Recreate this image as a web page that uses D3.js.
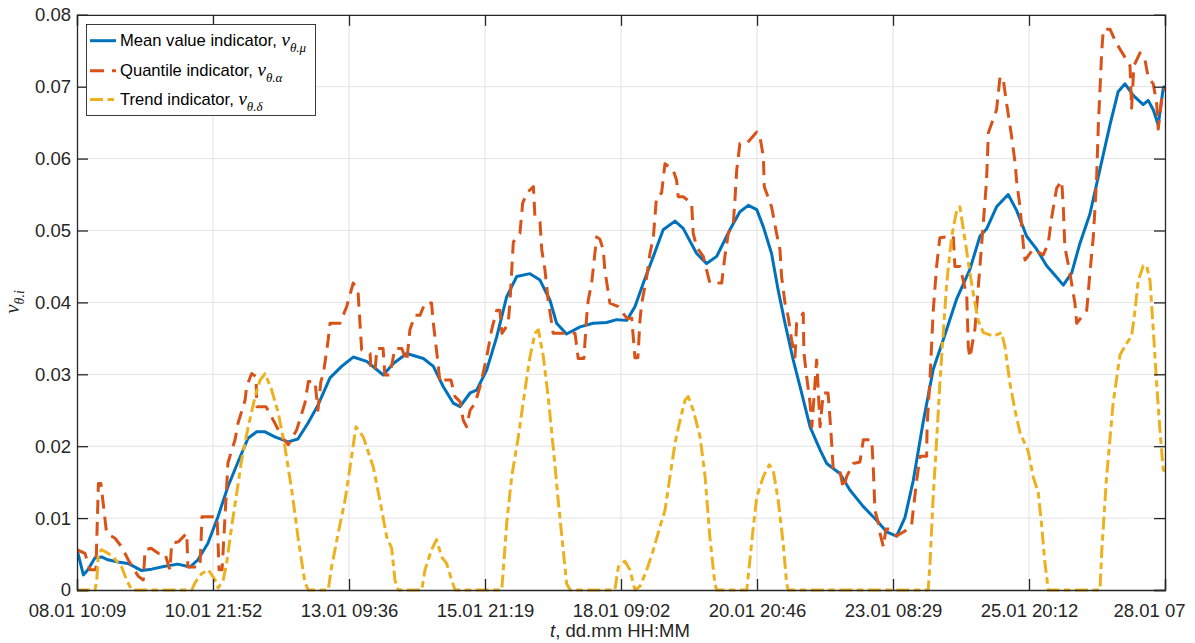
<!DOCTYPE html>
<html>
<head>
<meta charset="utf-8">
<script src="https://cdn.jsdelivr.net/npm/d3@7"></script>
<style>
html,body{margin:0;padding:0;background:#fff;}
svg{display:block;font-family:"Liberation Sans",Arial,Helvetica,sans-serif;}
</style>
</head>
<body>
<script>
// ---- Tick times (dd.mm HH:MM) and the tick labels as shown ----
const xTickTimes = ["08.01 10:09","10.01 21:52","13.01 09:36","15.01 21:19","18.01 09:02","20.01 20:46","23.01 08:29","25.01 20:12","28.01 07:55"];
const xTickLabels = ["08.01 10:09","10.01 21:52","13.01 09:36","15.01 21:19","18.01 09:02","20.01 20:46","23.01 08:29","25.01 20:12","28.01 07"];
const yTicks = [0,0.01,0.02,0.03,0.04,0.05,0.06,0.07,0.08];

// ---- Mean value indicator: time (hours from 08.01 10:09) and value ----
const meanT = [0,2.8,4.8,7.9,10.8,13.6,18.0,22.4,28.4,32.8,38.6,44.3,49.6,53.1,57.5,61.9,66.3,70.7,75.1,78.9,82.6,86.9,92.7,97.0,101.4,105.8,111.1,116.2,121.3,127.2,134.5,138.9,144.8,152.1,156.5,160.8,165.2,168.2,172.6,175.5,179.9,184.3,188.7,193.1,198.9,203.3,207.7,210.6,215.0,220.9,226.7,232.6,237.0,241.4,245.0,248.7,253.1,257.4,262.6,266.2,272.1,276.5,280.9,286.7,291.1,294.8,298.5,301.4,305.0,307.9,310.9,314.5,318.2,321.9,326.3,329.2,335.0,339.4,345.3,351.1,355.5,359.9,363.6,367.2,371.6,376.0,380.4,386.3,392.1,396.5,399.4,403.8,408.9,412.6,417.0,421.4,425.8,430.2,433.1,436.8,440.4,444.8,449.2,453.6,457.2,460.2,463.8,468.2,470.4,472.6,474.8,477.0,477.7];
const meanV = [0.0056,0.0021,0.0028,0.0045,0.0046,0.0042,0.0039,0.0037,0.0027,0.0029,0.0033,0.0036,0.0032,0.0042,0.0065,0.0102,0.0144,0.0178,0.0211,0.0220,0.0220,0.0213,0.0206,0.0210,0.0232,0.0257,0.0295,0.0311,0.0324,0.0318,0.0299,0.0315,0.0329,0.0322,0.0311,0.0283,0.0260,0.0255,0.0274,0.0278,0.0306,0.0352,0.0408,0.0436,0.0440,0.0431,0.0403,0.0371,0.0356,0.0366,0.0371,0.0372,0.0376,0.0375,0.0394,0.0427,0.0464,0.0501,0.0513,0.0503,0.0468,0.0454,0.0464,0.0501,0.0526,0.0535,0.0529,0.0505,0.0468,0.0417,0.0371,0.0320,0.0274,0.0227,0.0195,0.0176,0.0162,0.0139,0.0116,0.0097,0.0081,0.0075,0.0101,0.0152,0.0234,0.0307,0.0348,0.0405,0.0446,0.0492,0.0502,0.0533,0.0550,0.0528,0.0492,0.0474,0.0451,0.0435,0.0424,0.0441,0.0482,0.0523,0.0585,0.0647,0.0693,0.0704,0.0688,0.0675,0.0681,0.0668,0.0647,0.0698,0.0701];

// ---- Quantile indicator ----
const quantT = [0,3.5,5.7,8.3,9.4,10.5,13.0,16.7,19.6,22.5,26.9,29.1,29.9,32.5,35.7,38.6,40.8,41.6,44.5,48.2,48.7,54.0,54.9,61.5,62.4,63.7,66.3,69.4,70.7,73.8,74.5,76.7,78.6,79.0,83.0,86.9,89.9,92.8,96.5,100.1,101.6,104.5,105.8,107.1,108.2,110.3,111.1,115.5,118.4,121.3,123.4,125.0,128.7,129.1,130.9,131.7,134.4,135.2,137.4,139.6,142.6,144.8,146.2,148.4,150.6,152.8,155.7,156.3,158.5,159.4,160.7,164.2,166.0,168.2,169.6,171.1,172.6,174.8,177.0,179.9,182.1,184.3,185.7,186.6,189.3,190.1,190.9,191.6,194.5,195.7,197.5,200.4,201.1,203.3,204.1,205.5,206.9,209.1,212.1,218.7,220.1,222.6,223.8,224.5,226.0,228.2,229.6,231.1,231.8,234.0,237.7,241.4,243.6,245.0,246.3,247.2,248.0,250.2,251.6,253.1,253.8,254.5,256.7,258.2,261.8,263.3,264.0,266.2,269.9,270.6,272.1,275.0,276.5,277.9,283.1,284.5,286.0,288.2,288.9,289.7,291.1,294.1,298.5,299.9,301.4,301.8,305.0,307.2,308.7,309.4,310.9,312.3,313.8,315.3,316.0,318.9,319.2,320.4,321.9,322.7,324.8,325.5,326.3,327.7,329.8,330.6,331.4,332.1,335.0,336.5,338.0,340.9,343.8,345.3,349.0,349.7,350.4,351.9,352.6,354.1,355.2,357.0,359.9,363.6,366.5,367.2,368.7,370.2,373.1,373.3,374.6,376.0,377.5,378.9,384.8,385.5,387.7,390.7,391.4,392.1,394.3,396.5,399.4,400.2,403.8,405.3,406.6,408.2,410.4,411.9,412.6,414.1,415.5,416.3,419.9,424.3,426.5,428.0,430.2,432.4,433.1,433.8,436.0,438.2,439.0,443.4,444.8,446.3,447.7,448.5,450.0,450.7,453.6,456.5,459.4,462.4,463.1,464.1,466.8,469.0,470.4,472.6,474.1,474.8,476.3,477.7];
const quantV = [0.0056,0.0051,0.0028,0.0028,0.0148,0.0148,0.0079,0.0072,0.0060,0.0042,0.0019,0.0014,0.0056,0.0058,0.0051,0.0051,0.0028,0.0065,0.0067,0.0079,0.0032,0.0032,0.0102,0.0102,0.0028,0.0028,0.0177,0.0209,0.0232,0.0264,0.0283,0.0301,0.0297,0.0255,0.0255,0.0232,0.0213,0.0202,0.0223,0.0260,0.0290,0.0290,0.0250,0.0290,0.0301,0.0348,0.0371,0.0371,0.0394,0.0427,0.0415,0.0334,0.0329,0.0306,0.0306,0.0336,0.0336,0.0299,0.0299,0.0336,0.0336,0.0318,0.0362,0.0382,0.0382,0.0399,0.0399,0.0376,0.0316,0.0288,0.0292,0.0292,0.0269,0.0262,0.0236,0.0227,0.0250,0.0260,0.0283,0.0324,0.0362,0.0389,0.0389,0.0357,0.0370,0.0399,0.0445,0.0484,0.0496,0.0538,0.0552,0.0561,0.0519,0.0512,0.0473,0.0445,0.0403,0.0357,0.0357,0.0357,0.0322,0.0322,0.0380,0.0403,0.0427,0.0491,0.0488,0.0473,0.0445,0.0399,0.0394,0.0378,0.0378,0.0323,0.0323,0.0375,0.0399,0.0436,0.0468,0.0491,0.0519,0.0547,0.0552,0.0593,0.0584,0.0570,0.0547,0.0547,0.0538,0.0496,0.0477,0.0464,0.0445,0.0427,0.0427,0.0464,0.0496,0.0510,0.0542,0.0584,0.0621,0.0621,0.0637,0.0630,0.0603,0.0561,0.0533,0.0496,0.0473,0.0436,0.0399,0.0380,0.0348,0.0324,0.0371,0.0385,0.0330,0.0297,0.0260,0.0227,0.0320,0.0278,0.0227,0.0274,0.0274,0.0241,0.0204,0.0167,0.0165,0.0141,0.0158,0.0176,0.0178,0.0209,0.0209,0.0167,0.0111,0.0093,0.0079,0.0060,0.0085,0.0085,0.0075,0.0082,0.0090,0.0111,0.0152,0.0186,0.0186,0.0229,0.0296,0.0389,0.0451,0.0490,0.0492,0.0450,0.0450,0.0410,0.0338,0.0323,0.0363,0.0450,0.0569,0.0636,0.0668,0.0713,0.0713,0.0677,0.0631,0.0595,0.0569,0.0533,0.0482,0.0459,0.0474,0.0466,0.0482,0.0518,0.0559,0.0569,0.0533,0.0477,0.0441,0.0399,0.0371,0.0389,0.0441,0.0492,0.0569,0.0647,0.0750,0.0780,0.0780,0.0760,0.0745,0.0729,0.0670,0.0729,0.0747,0.0737,0.0713,0.0704,0.0677,0.0641,0.0683,0.0698];

// ---- Trend indicator ----
const trendT = [0,7.9,8.7,9.4,10.8,13.7,15.9,19.6,21.8,24.0,50.4,51.8,54.8,57.7,60.6,62.0,64.2,65.7,67.9,70.1,72.3,75.2,78.2,80.4,82.6,85.5,88.4,91.3,94.3,97.2,100.1,101.6,110.3,111.8,114.7,117.7,119.9,122.5,125.7,130.1,133.0,136.0,138.2,139.6,141.1,151.4,152.8,155.7,157.9,160.1,162.3,164.5,166.0,186.5,187.2,188.7,190.9,193.8,196.7,198.9,201.1,202.6,204.8,206.9,209.1,211.3,213.5,215.0,216.5,236.2,237.7,240.6,242.8,245.0,247.2,250.2,253.1,256.0,258.2,260.4,262.6,264.8,267.0,268.4,270.6,273.6,275.8,277.9,280.1,280.9,294.1,295.5,297.0,298.5,301.4,304.0,305.7,307.9,310.1,311.6,312.3,373.8,374.6,376.0,377.5,378.9,380.4,381.9,384.1,386.3,387.7,389.2,390.7,392.1,394.3,395.8,398.0,402.4,406.0,407.5,409.7,411.9,414.1,417.7,419.9,422.1,423.6,425.0,426.5,449.2,450.0,452.1,455.0,458.0,460.9,463.1,464.6,466.0,468.2,469.7,471.2,472.6,474.1,475.5,477.0,477.7];
const trendV = [0,0,0.0014,0.0051,0.0056,0.0051,0.0046,0.0032,0.0014,0,0,0.0010,0.0023,0.0028,0.0014,0.0003,0.0014,0.0037,0.0088,0.0134,0.0181,0.0227,0.0269,0.0292,0.0301,0.0278,0.0246,0.0199,0.0139,0.0070,0.0010,0,0,0.0032,0.0079,0.0125,0.0171,0.0227,0.0213,0.0171,0.0125,0.0074,0.0058,0.0014,0,0,0.0028,0.0056,0.0070,0.0046,0.0037,0.0014,0,0,0.0028,0.0093,0.0158,0.0213,0.0278,0.0324,0.0357,0.0362,0.0324,0.0269,0.0199,0.0125,0.0056,0.0009,0,0,0.0032,0.0040,0.0028,0,0.0005,0.0028,0.0056,0.0088,0.0111,0.0158,0.0204,0.0236,0.0264,0.0269,0.0250,0.0213,0.0158,0.0074,0.0009,0,0,0.0042,0.0088,0.0130,0.0158,0.0174,0.0167,0.0125,0.0065,0.0010,0,0,0.0039,0.0131,0.0209,0.0287,0.0358,0.0426,0.0492,0.0528,0.0533,0.0502,0.0471,0.0441,0.0399,0.0374,0.0358,0.0353,0.0358,0.0338,0.0287,0.0250,0.0219,0.0193,0.0157,0.0136,0.0090,0.0039,0,0,0.0054,0.0157,0.0260,0.0327,0.0343,0.0353,0.0389,0.0430,0.0451,0.0451,0.0430,0.0363,0.0287,0.0224,0.0167,0.0165];

const seriesNames = ["Mean value indicator, ","Quantile indicator, ","Trend indicator, "];
const seriesSubs = ["\u03B8.\u03BC","\u03B8.\u03B1","\u03B8.\u03B4"];
const colors = ["#0072BD","#D95319","#EDB120"];
const dashes = [null,"14,8","13,4.5,6.5,4.5"];

// ---- Setup ----
const W = 1195, H = 643;
const L = 77, R = 1165, T = 14.8, B = 590;
const parse = d3.timeParse("%d.%m %H:%M");
const tickDates = xTickTimes.map(parse);
const t0 = tickDates[0];
const toDate = h => new Date(t0.getTime() + h*3600000);

const x = d3.scaleTime().domain([tickDates[0], tickDates[tickDates.length-1]]).range([L,R]);
const y = d3.scaleLinear().domain([0,0.08]).range([B,T]);

const svg = d3.select("body").append("svg").attr("width",W).attr("height",H);
svg.append("rect").attr("width",W).attr("height",H).attr("fill","#fff");

const ink = "#262626";
// grid
const grid = svg.append("g");
grid.selectAll("line.gx").data(tickDates.slice(1,-1)).join("line")
  .attr("x1",d=>x(d)).attr("x2",d=>x(d)).attr("y1",T).attr("y2",B)
  .attr("stroke","#e3e3e3").attr("stroke-width",1);
grid.selectAll("line.gy").data(yTicks.slice(1,-1)).join("line")
  .attr("x1",L).attr("x2",R).attr("y1",d=>y(d)).attr("y2",d=>y(d))
  .attr("stroke","#e3e3e3").attr("stroke-width",1);

// clip
svg.append("clipPath").attr("id","clip").append("rect")
  .attr("x",L).attr("y",T-2).attr("width",R-L).attr("height",B-T+4);

const line = d3.line().x(d=>x(d[0])).y(d=>y(d[1]));
const allSeries = [
  d3.zip(meanT.map(toDate), meanV),
  d3.zip(quantT.map(toDate), quantV),
  d3.zip(trendT.map(toDate), trendV)
];
const lines = svg.append("g").attr("clip-path","url(#clip)");
allSeries.forEach((s,i)=>{
  lines.append("path").datum(s).attr("d",line)
    .attr("fill","none").attr("stroke",colors[i]).attr("stroke-width",3)
    .attr("stroke-linejoin","round")
    .attr("stroke-dasharray",dashes[i]);
});

// axes
const fs = 18.5;
const xAxisB = d3.axisBottom(x).tickValues(tickDates).tickSize(-11).tickPadding(14)
  .tickFormat((d,i)=>xTickLabels[i]);
const gxB = svg.append("g").attr("transform",`translate(0,${B})`).call(xAxisB);
const xAxisT = d3.axisTop(x).tickValues(tickDates).tickSize(-11).tickFormat("");
const gxT = svg.append("g").attr("transform",`translate(0,${T})`).call(xAxisT);
const yAxisL = d3.axisLeft(y).tickValues(yTicks).tickSize(-11).tickPadding(6)
  .tickFormat(d=> d===0 ? "0" : d3.format(".2f")(d));
const gyL = svg.append("g").attr("transform",`translate(${L},0)`).call(yAxisL);
const yAxisR = d3.axisRight(y).tickValues(yTicks).tickSize(-11).tickFormat("");
const gyR = svg.append("g").attr("transform",`translate(${R},0)`).call(yAxisR);
[gxB,gxT,gyL,gyR].forEach(g=>{
  g.select(".domain").attr("stroke",ink).attr("stroke-width",1.3);
  g.selectAll(".tick line").attr("stroke",ink).attr("stroke-width",1.3);
  g.selectAll("text").attr("fill",ink).style("font-size",fs+"px")
    .style("font-family",'"Liberation Sans",Arial,sans-serif');
});
gxB.selectAll("text").attr("dy","0.71em");
// last label is truncated at the figure edge in the original: keep its left edge where the full label would start
gxB.selectAll(".tick").filter((d,i)=>i===xTickLabels.length-1).select("text")
  .attr("text-anchor","start").attr("x",-52);

// axis titles
const xt = svg.append("text").attr("x",620).attr("y",637).attr("text-anchor","middle")
  .attr("fill",ink).style("font-size",fs+"px");
xt.append("tspan").style("font-style","italic").text("t");
xt.append("tspan").text(", dd.mm HH:MM");

const yt = svg.append("text").attr("transform","translate(19,302) rotate(-90)")
  .attr("text-anchor","middle").attr("fill",ink)
  .style("font-family",'"Liberation Serif","Times New Roman",serif').style("font-style","italic");
yt.append("tspan").style("font-size","21px").text("\u03BD");
yt.append("tspan").attr("dy",5).style("font-size","14px").text("\u03B8.i");

// legend
const lg = svg.append("g");
lg.append("rect").attr("x",86.5).attr("y",24.5).attr("width",229).attr("height",91)
  .attr("fill","#fff").attr("stroke",ink).attr("stroke-width",0.9);
const rowY = [40.7,70.7,99.5];
seriesNames.forEach((name,i)=>{
  lg.append("line").attr("x1",90).attr("x2",116).attr("y1",rowY[i]).attr("y2",rowY[i])
    .attr("stroke",colors[i]).attr("stroke-width",3).attr("stroke-dasharray",dashes[i]);
  const t = lg.append("text").attr("x",120).attr("y",rowY[i]+5.5).attr("fill","#000")
    .style("font-size","16.6px");
  t.append("tspan").text(name);
  t.append("tspan").style("font-family",'"Liberation Serif","Times New Roman",serif')
    .style("font-style","italic").style("font-size","19px").text("\u03BD");
  t.append("tspan").attr("dy",6).style("font-family",'"Liberation Serif","Times New Roman",serif')
    .style("font-style","italic").style("font-size","13px").text(seriesSubs[i]);
});
</script>
</body>
</html>
